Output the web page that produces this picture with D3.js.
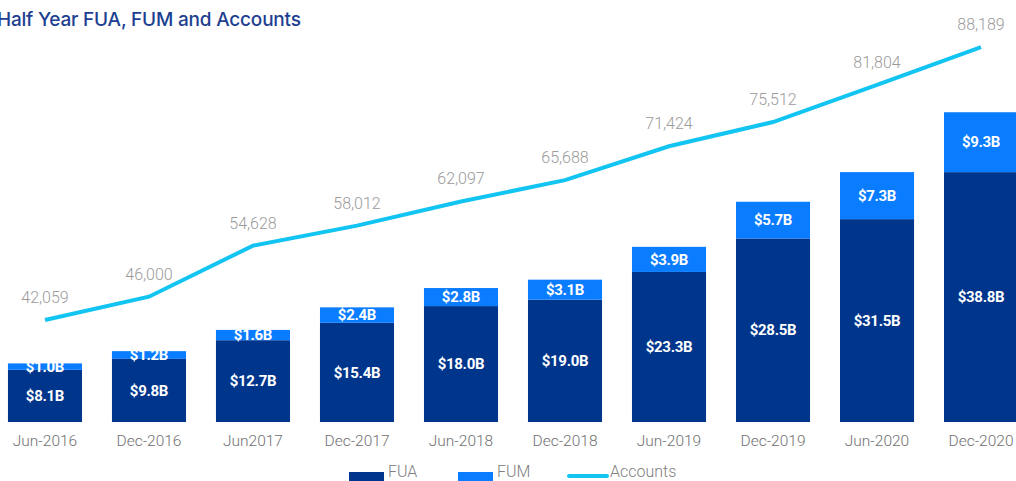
<!DOCTYPE html>
<html>
<head>
<meta charset="utf-8">
<script src="https://cdn.jsdelivr.net/npm/d3@7"></script>
<style>
  body { margin: 0; background: #fff; }
  svg { display: block; }
</style>
</head>
<body>
<script>
const width = 1016
const height = 481

const periods = ['Jun-2016', 'Dec-2016', 'Jun2017', 'Dec-2017', 'Jun-2018', 'Dec-2018', 'Jun-2019', 'Dec-2019', 'Jun-2020', 'Dec-2020']
const fua = [8.1, 9.8, 12.7, 15.4, 18.0, 19.0, 23.3, 28.5, 31.5, 38.8]
const fum = [1.0, 1.2, 1.6, 2.4, 2.8, 3.1, 3.9, 5.7, 7.3, 9.3]
const accounts = [42059, 46000, 54628, 58012, 62097, 65688, 71424, 75512, 81804, 88189]
const legendItems = ['FUA', 'FUM', 'Accounts']

const colFUA = '#00358c'
const colFUM = '#0a7cff'
const colLine = '#12c4f2'

let svg = d3.select('body').append('svg')
    .attr('width', width)
    .attr('height', height)

let x = d3.scaleBand()
    .domain(periods)
    .range([-22, 1048])
    .paddingInner(0.288)
    .paddingOuter(0.288)

let y = d3.scaleLinear()
    .domain([0, 50])
    .range([422, 100])

let yAcc = d3.scaleLinear()
    .domain([30000, 90000])
    .range([391.4, 36.3])

// title, cut at the left edge as in the original
svg.append('text')
    .attr('x', -3)
    .attr('y', 26)
    .style('font-family', 'Inter, sans-serif')
    .style('font-weight', 500)
    .style('font-size', '19px')
    .style('letter-spacing', '-0.2px')
    .style('fill', '#1d3f91')
    .text('Half Year FUA, FUM and Accounts')

let rows = periods.map((p, i) => ({ p: p, fua: fua[i], fum: fum[i], acc: accounts[i] }))

let defs = svg.append('defs')
rows.forEach((d, i) => {
    defs.append('clipPath').attr('id', 'clip' + i)
        .append('rect')
        .attr('x', x(d.p))
        .attr('y', 0)
        .attr('width', x.bandwidth())
        .attr('height', y(d.fua) + 4)
})

let bars = svg.append('g').selectAll('g').data(rows).join('g')

bars.append('rect')
    .attr('x', d => x(d.p))
    .attr('y', d => y(d.fua))
    .attr('width', x.bandwidth())
    .attr('height', d => y(0) - y(d.fua))
    .style('fill', colFUA)

bars.append('rect')
    .attr('x', d => x(d.p))
    .attr('y', d => y(d.fua + d.fum))
    .attr('width', x.bandwidth())
    .attr('height', d => y(d.fua) - y(d.fua + d.fum))
    .style('fill', colFUM)

const labelStyle = sel => sel
    .attr('text-anchor', 'middle')
    .attr('dy', '0.35em')
    .style('font-family', 'Roboto, sans-serif')
    .style('font-weight', 700)
    .style('font-size', '15px')
    .style('letter-spacing', '-0.3px')
    .style('fill', '#fff')

bars.append('text')
    .attr('x', d => x(d.p) + x.bandwidth() / 2)
    .attr('y', d => (y(0) + y(d.fua)) / 2)
    .call(labelStyle)
    .text(d => '$' + d.fua.toFixed(1) + 'B')

bars.append('text')
    .attr('clip-path', (d, i) => 'url(#clip' + i + ')')
    .attr('x', d => x(d.p) + x.bandwidth() / 2)
    .attr('y', d => (y(d.fua) + y(d.fua + d.fum)) / 2)
    .call(labelStyle)
    .text(d => '$' + d.fum.toFixed(1) + 'B')

// accounts line
let line = d3.line()
    .x(d => x(d.p) + x.bandwidth() / 2)
    .y(d => yAcc(d.acc))

svg.append('path')
    .datum(rows)
    .attr('d', line)
    .style('fill', 'none')
    .style('stroke', colLine)
    .style('stroke-width', 4)

svg.append('g').selectAll('text').data(rows).join('text')
    .attr('x', d => x(d.p) + x.bandwidth() / 2)
    .attr('y', d => yAcc(d.acc) - 17)
    .attr('text-anchor', 'middle')
    .style('font-family', 'Roboto, sans-serif')
    .style('font-weight', 300)
    .style('font-size', '16px')
    .style('fill', '#9a9a9a')
    .text(d => d3.format(',')(d.acc))

// x axis labels
svg.append('g').selectAll('text').data(periods).join('text')
    .attr('x', d => x(d) + x.bandwidth() / 2)
    .attr('y', 446)
    .attr('text-anchor', 'middle')
    .style('font-family', 'Roboto, sans-serif')
    .style('font-weight', 300)
    .style('font-size', '15.5px')
    .style('fill', '#707070')
    .text(d => d)

// legend
let legendX = [349, 458, 569]
let lg = svg.append('g').selectAll('g').data(legendItems).join('g')
    .attr('transform', (d, i) => 'translate(' + legendX[i] + ',0)')

lg.filter((d, i) => i < 2).append('rect')
    .attr('x', 0)
    .attr('y', 472)
    .attr('width', 35)
    .attr('height', 10)
    .style('fill', (d, i) => i == 0 ? colFUA : colFUM)

lg.filter((d, i) => i == 2).append('line')
    .attr('x1', 0).attr('x2', 38)
    .attr('y1', 476).attr('y2', 476)
    .style('stroke', colLine)
    .style('stroke-width', 4)
    .style('stroke-linecap', 'round')

lg.append('text')
    .attr('x', (d, i) => i == 2 ? 41 : 39)
    .attr('y', 477)
    .style('font-family', 'Roboto, sans-serif')
    .style('font-weight', 300)
    .style('font-size', '16px')
    .style('fill', '#808080')
    .text(d => d)
</script>
</body>
</html>
